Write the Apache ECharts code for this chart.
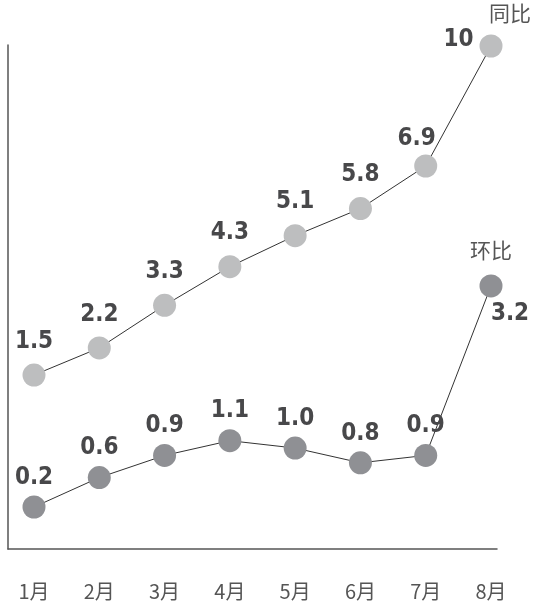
<!DOCTYPE html>
<html>
<head>
<meta charset="utf-8">
<script src="https://cdn.jsdelivr.net/npm/echarts@6/dist/echarts.min.js"></script>
<style>
  html, body { margin: 0; padding: 0; background: #fff; }
  #chart { width: 535px; height: 605px; }
</style>
</head>
<body>
<div id="chart"></div>
<script>
const months = ['1月', '2月', '3月', '4月', '5月', '6月', '7月', '8月']
const yoyName = '同比'
const momName = '环比'
const yoyValues = [1.5, 2.2, 3.3, 4.3, 5.1, 5.8, 6.9, 10]
const momValues = [0.2, 0.6, 0.9, 1.1, 1.0, 0.8, 0.9, 3.2]

const labelFont = {
  fontFamily: '"Liberation Sans Narrow", "DejaVu Sans Condensed", sans-serif',
  fontWeight: 'bold',
  fontSize: 24,
  color: '#48484a',
  formatter: (p) => (p.value >= 10 ? String(p.value) : p.value.toFixed(1))
}
const cjkFont = '"Noto Sans CJK SC", sans-serif'

// a few labels sit on other sides of their points
const yoyData = yoyValues.map((v, i) => {
  if (i === yoyValues.length - 1) {
    return { value: v, label: { position: 'left', distance: 6, offset: [0, -6] } }
  }
  if (i === yoyValues.length - 2) {
    return { value: v, label: { distance: 4, offset: [-9, 0] } }
  }
  return v
})
const momData = momValues.map((v, i) => {
  if (i === momValues.length - 1) {
    return { value: v, label: { position: 'bottom', distance: 4, offset: [19, 0] } }
  }
  return v
})

const chart = echarts.init(document.getElementById('chart'))

const hiddenAxis = {
  axisLine: { show: false },
  axisTick: { show: false },
  axisLabel: { show: false },
  splitLine: { show: false }
}
const frameAxis = {
  type: 'value',
  gridIndex: 0,
  min: 0,
  max: 1,
  axisLine: { show: true, lineStyle: { color: '#555', width: 1.5 } },
  axisTick: { show: false },
  axisLabel: { show: false },
  splitLine: { show: false }
}

const nameLabel = {
  show: true,
  formatter: '{a}',
  fontSize: 21,
  fontFamily: cjkFont,
  color: '#555'
}

const option = {
  animation: false,
  backgroundColor: '#fff',
  grid: [
    { left: 8, right: 38, top: 45, bottom: 56 },
    { left: 34, right: 44, top: 45, bottom: 56 }
  ],
  xAxis: [
    frameAxis,
    {
      type: 'category',
      gridIndex: 1,
      boundaryGap: false,
      data: months,
      axisLine: { show: false },
      axisTick: { show: false },
      splitLine: { show: false },
      axisLabel: {
        margin: 32,
        fontSize: 20,
        fontFamily: cjkFont,
        color: '#555'
      }
    }
  ],
  yAxis: [
    frameAxis,
    Object.assign({ type: 'value', gridIndex: 1, min: -2.995, max: 10.026 }, hiddenAxis),
    Object.assign({ type: 'value', gridIndex: 1, min: -0.37, max: 6.471 }, hiddenAxis)
  ],
  series: [
    {
      name: yoyName,
      type: 'line',
      xAxisIndex: 1,
      yAxisIndex: 1,
      clip: false,
      symbol: 'circle',
      symbolSize: 23,
      itemStyle: { color: '#bdbebf' },
      lineStyle: { color: '#333', width: 1 },
      label: Object.assign({ show: true, position: 'top', distance: 10 }, labelFont),
      endLabel: Object.assign({ offset: [-10, -33] }, nameLabel),
      data: yoyData
    },
    {
      name: momName,
      type: 'line',
      xAxisIndex: 1,
      yAxisIndex: 2,
      clip: false,
      symbol: 'circle',
      symbolSize: 23,
      itemStyle: { color: '#8f9094' },
      lineStyle: { color: '#333', width: 1 },
      label: Object.assign({ show: true, position: 'top', distance: 6 }, labelFont),
      endLabel: Object.assign({ offset: [-29, -36] }, nameLabel),
      data: momData
    }
  ]
}

chart.setOption(option)
</script>
</body>
</html>
